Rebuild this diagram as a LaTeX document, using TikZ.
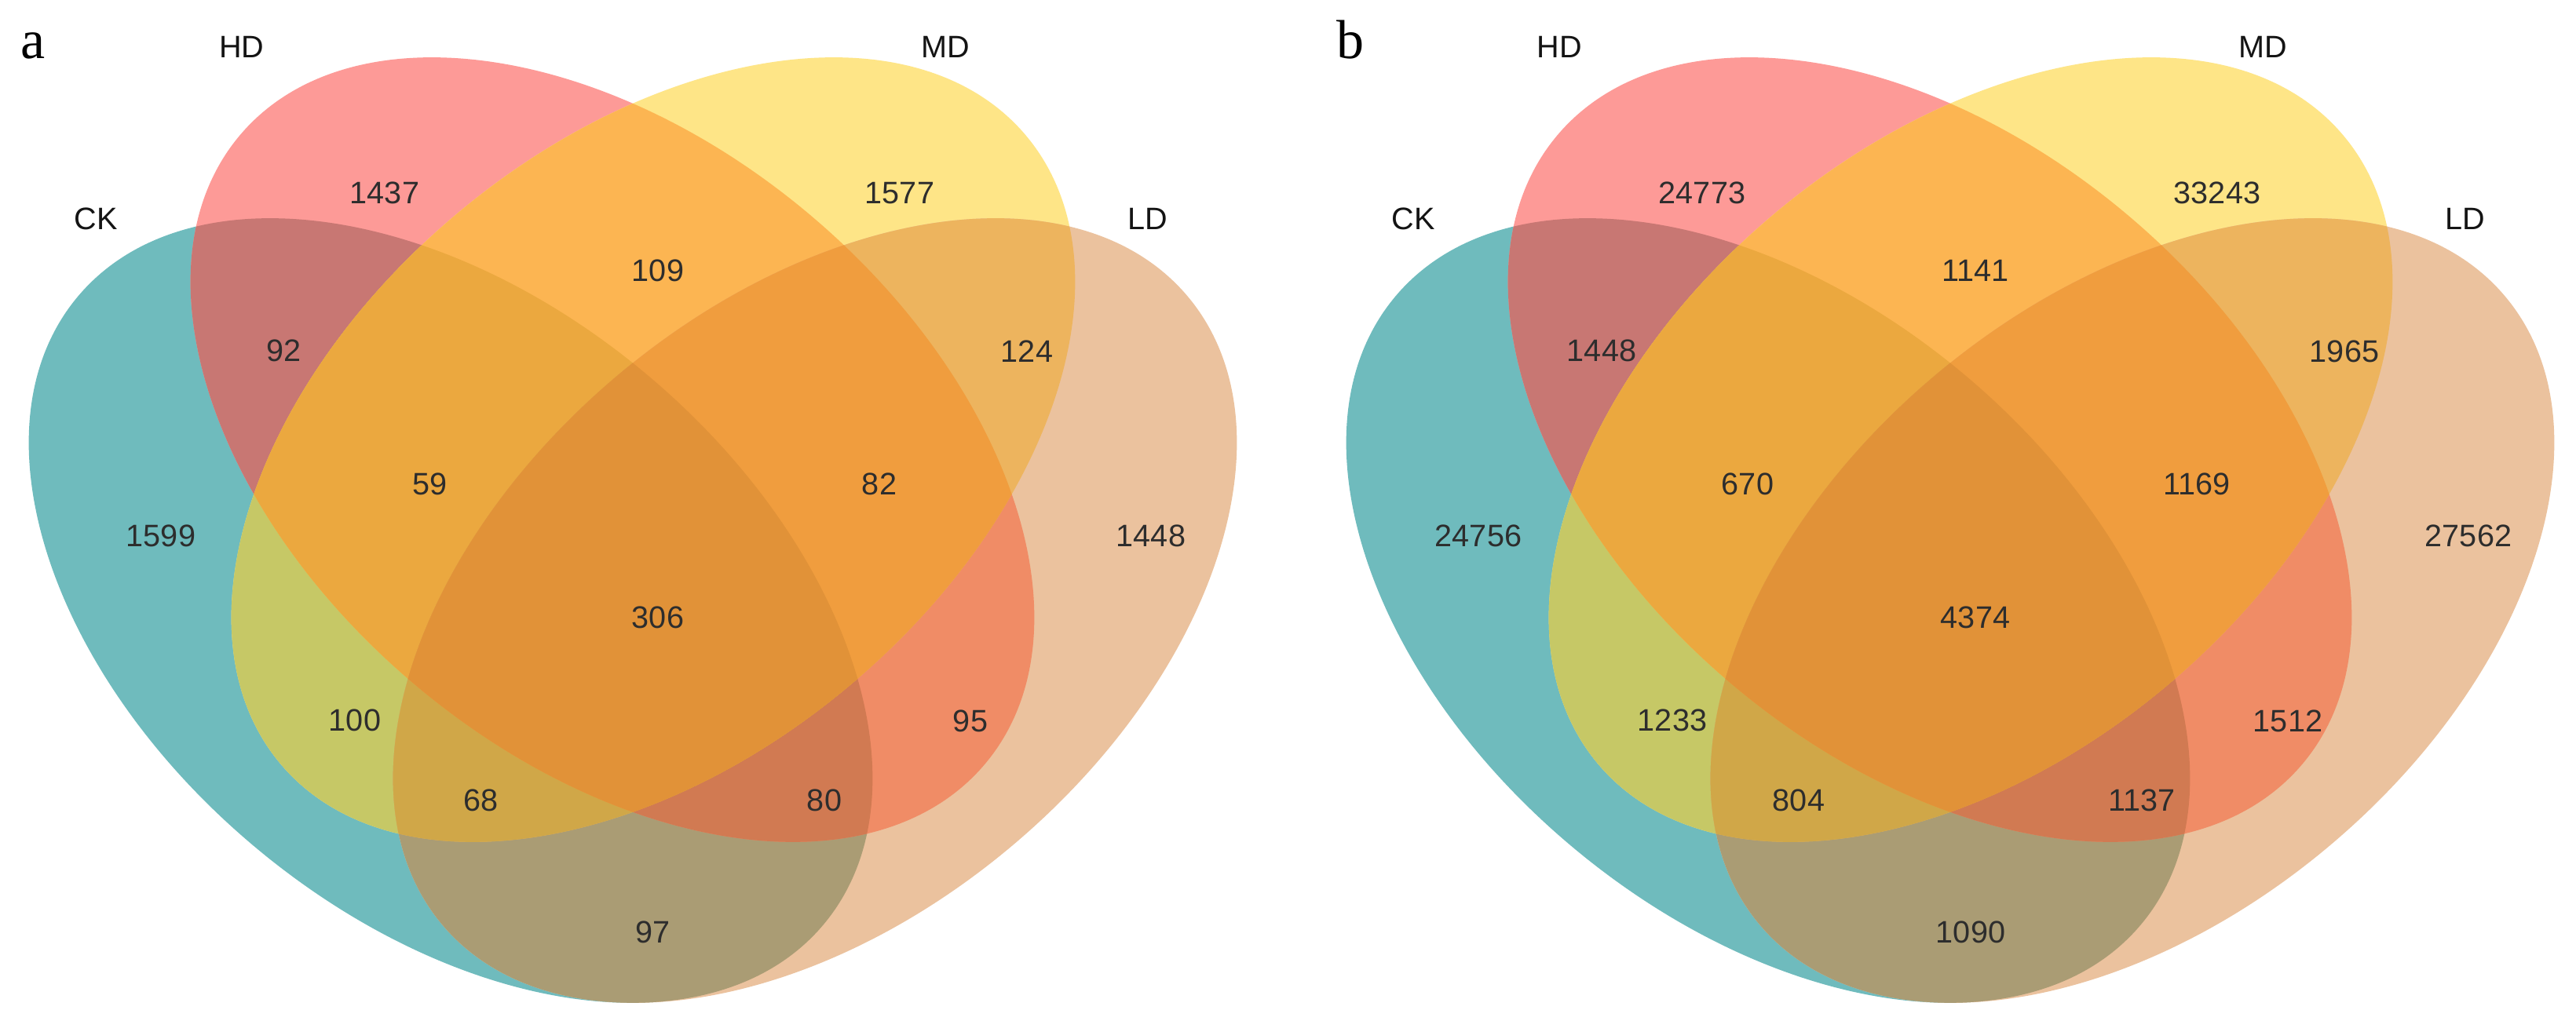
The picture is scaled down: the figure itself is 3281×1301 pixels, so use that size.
\documentclass[tikz,border=0pt]{standalone}
\usepackage{fontspec}
\setmainfont{Liberation Sans}
\newfontfamily\panelserif{Liberation Serif}
\definecolor{ckc}{RGB}{111,187,189}
\definecolor{hdc}{RGB}{253,154,151}
\definecolor{mdc}{RGB}{254,229,135}
\definecolor{ldc}{RGB}{235,194,158}
\definecolor{ckhdc}{RGB}{200,119,115}
\definecolor{ckmdc}{RGB}{198,200,102}
\definecolor{ckldc}{RGB}{170,156,116}
\definecolor{hdmdc}{RGB}{252,181,82}
\definecolor{hdldc}{RGB}{240,140,102}
\definecolor{mdldc}{RGB}{237,180,94}
\definecolor{ckhdmdc}{RGB}{235,168,63}
\definecolor{ckhdldc}{RGB}{209,122,82}
\definecolor{ckmdldc}{RGB}{208,167,72}
\definecolor{hdmdldc}{RGB}{240,157,62}
\definecolor{allc}{RGB}{225,146,56}
\definecolor{numc}{RGB}{45,45,45}
\definecolor{labc}{RGB}{20,20,20}
\newcommand\ellCK{[rotate around={-40.2:(574,-778)}] (574,-778) ellipse [x radius=621, y radius=391]}
\newcommand\ellHD{[rotate around={-40.2:(780,-573)}] (780,-573) ellipse [x radius=621, y radius=391]}
\newcommand\ellMD{[rotate around={40.2:(832,-573)}] (832,-573) ellipse [x radius=621, y radius=391]}
\newcommand\ellLD{[rotate around={40.2:(1038,-778)}] (1038,-778) ellipse [x radius=621, y radius=391]}
\newcommand\drawvenn{%
  \fill[ckc] \ellCK; \fill[hdc] \ellHD; \fill[mdc] \ellMD; \fill[ldc] \ellLD;
  \begin{scope}\clip \ellCK; \fill[ckhdc] \ellHD; \fill[ckmdc] \ellMD; \fill[ckldc] \ellLD; \end{scope}
  \begin{scope}\clip \ellHD; \fill[hdmdc] \ellMD; \fill[hdldc] \ellLD; \end{scope}
  \begin{scope}\clip \ellMD; \fill[mdldc] \ellLD; \end{scope}
  \begin{scope}\clip \ellCK; \clip \ellHD; \fill[ckhdmdc] \ellMD; \fill[ckhdldc] \ellLD; \end{scope}
  \begin{scope}\clip \ellCK; \clip \ellMD; \fill[ckmdldc] \ellLD; \end{scope}
  \begin{scope}\clip \ellHD; \clip \ellMD; \fill[hdmdldc] \ellLD; \end{scope}
  \begin{scope}\clip \ellCK; \clip \ellHD; \clip \ellMD; \fill[allc] \ellLD; \end{scope}
}
\tikzset{
  num/.style={font=\fontsize{9.9pt}{12pt}\selectfont, text=numc, inner sep=0pt},
  setlab/.style={font=\fontsize{9.9pt}{12pt}\selectfont, text=labc, inner sep=0pt, anchor=base},
  panellab/.style={font=\panelserif\fontsize{17.5pt}{20pt}\selectfont, text=black, inner sep=0pt, anchor=base}
}
\begin{document}
\begin{tikzpicture}[x=0.25pt,y=0.25pt]
\fill[white] (0,0) rectangle (3281,-1301);
\useasboundingbox (0,0) rectangle (3281,-1301);
% panel a
\begin{scope}
  \drawvenn
  \node[panellab] (pa) at (42,-75) {a};
  \node[setlab] (aHD) at (308,-74) {HD};
  \node[setlab] (aMD) at (1204,-74) {MD};
  \node[setlab] (aCK) at (122,-293) {CK};
  \node[setlab] (aLD) at (1462,-293) {LD};
  \node[num] (a1) at (490,-246) {1437};
  \node[num] (a2) at (1146,-246) {1577};
  \node[num] (a3) at (838,-345) {109};
  \node[num] (a4) at (362,-447) {92};
  \node[num] (a5) at (1308,-448) {124};
  \node[num] (a6) at (548,-617) {59};
  \node[num] (a7) at (1120,-617) {82};
  \node[num] (a8) at (205,-683) {1599};
  \node[num] (a9) at (1466,-683) {1448};
  \node[num] (a10) at (838,-787) {306};
  \node[num] (a11) at (452,-918) {100};
  \node[num] (a12) at (1236,-919) {95};
  \node[num] (a13) at (613,-1020) {68};
  \node[num] (a14) at (1050,-1020) {80};
  \node[num] (a15) at (832,-1188) {97};
\end{scope}
% panel b
\begin{scope}[shift={(1678,0)}]
  \drawvenn
  \node[panellab] (pb) at (42,-75) {b};
  \node[setlab] (bHD) at (308,-74) {HD};
  \node[setlab] (bMD) at (1204,-74) {MD};
  \node[setlab] (bCK) at (122,-293) {CK};
  \node[setlab] (bLD) at (1462,-293) {LD};
  \node[num] (b1) at (490,-246) {24773};
  \node[num] (b2) at (1146,-246) {33243};
  \node[num] (b3) at (838,-345) {1141};
  \node[num] (b4) at (362,-447) {1448};
  \node[num] (b5) at (1308,-448) {1965};
  \node[num] (b6) at (548,-617) {670};
  \node[num] (b7) at (1120,-617) {1169};
  \node[num] (b8) at (205,-683) {24756};
  \node[num] (b9) at (1466,-683) {27562};
  \node[num] (b10) at (838,-787) {4374};
  \node[num] (b11) at (452,-918) {1233};
  \node[num] (b12) at (1236,-919) {1512};
  \node[num] (b13) at (613,-1020) {804};
  \node[num] (b14) at (1050,-1020) {1137};
  \node[num] (b15) at (832,-1188) {1090};
\end{scope}
\end{tikzpicture}
\end{document}
